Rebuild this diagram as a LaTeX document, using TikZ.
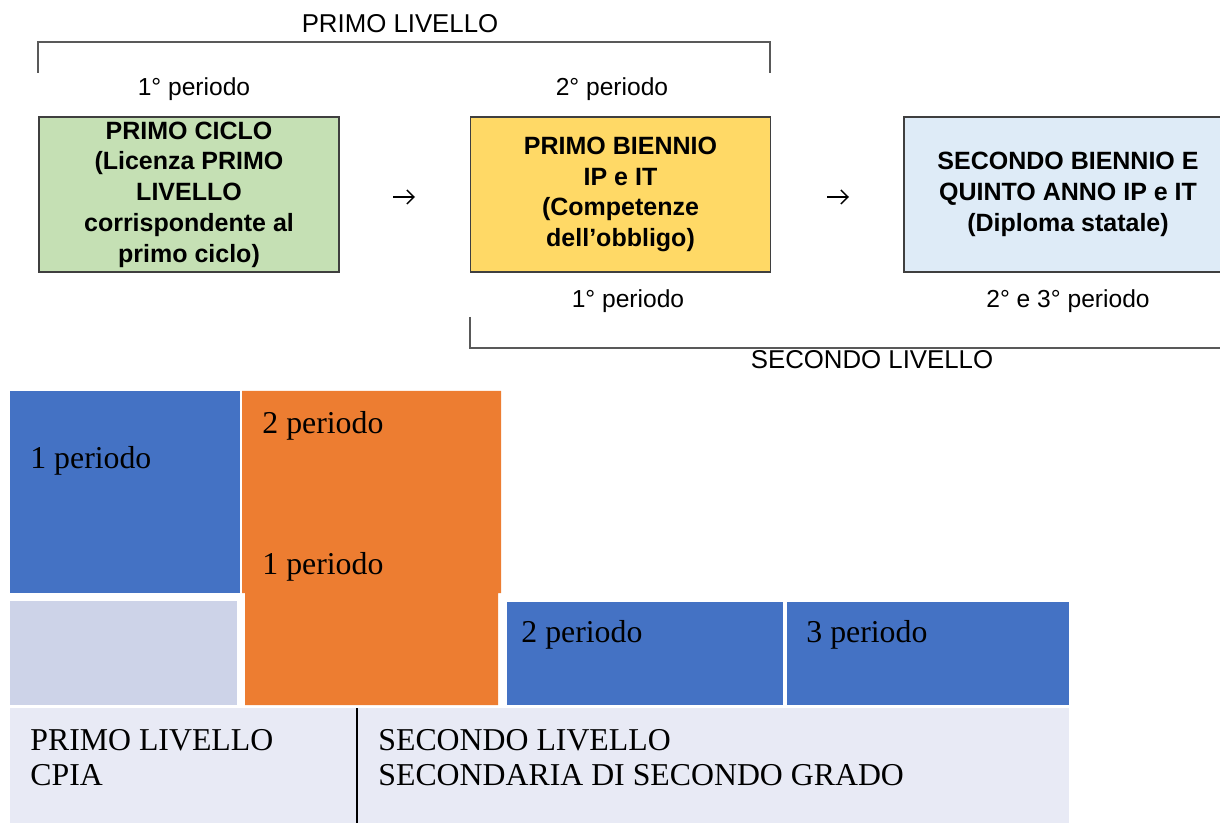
\documentclass[tikz,border=0pt]{standalone}
\usepackage{fontspec}
\usetikzlibrary{arrows.meta}
\setmainfont{Liberation Serif}
\newfontfamily\arialfont{Liberation Sans}
\definecolor{verde}{HTML}{C5E0B4}
\definecolor{giallo}{HTML}{FFD966}
\definecolor{celeste}{HTML}{DEEBF7}
\definecolor{blu}{HTML}{4472C4}
\definecolor{arancio}{HTML}{ED7D31}
\definecolor{lilla}{HTML}{CDD3E8}
\definecolor{fondo}{HTML}{E8EAF5}
\definecolor{bordo}{HTML}{3F3F3F}
\definecolor{riga}{HTML}{595959}
\begin{document}
\begin{tikzpicture}[x=0.5pt, y=-0.5pt,
    box/.style={draw=bordo, line width=0.7pt, minimum width=150pt, minimum height=77.5pt,
        align=center, inner sep=0pt, font=\arialfont\bfseries\fontsize{12.5}{15.4}\selectfont},
    etichetta/.style={anchor=base, inner sep=0pt, font=\arialfont\fontsize{12.3}{14}\selectfont},
    titolo/.style={anchor=base, inner sep=0pt, font=\arialfont\fontsize{12.9}{15}\selectfont},
    freccia/.style={line width=0.7pt, -{Straight Barb[length=3.6pt, width=7pt, line width=0.7pt]}},
    testo/.style={anchor=base west, inner sep=0pt, font=\fontsize{15.9}{16.5}\selectfont},
    parentesi/.style={draw=riga, line width=0.75pt}]
    \useasboundingbox (0,0) rectangle (1220,823);
    \clip (0,0) rectangle (1220,823);

    % Primo livello
    \node[titolo] (tPrimo) at (400,33) {PRIMO LIVELLO};
    \draw[parentesi] (38,73) -- (38,42) -- (770,42) -- (770,73);
    \node[etichetta] (per1) at (194,96) {1° periodo};
    \node[etichetta] (per2) at (612,96) {2° periodo};

    % Riquadri
    \node[box, fill=verde] (ciclo) at (189,194.5)
        {PRIMO CICLO\\(Licenza PRIMO\\LIVELLO\\corrispondente al\\primo ciclo)};
    \node[box, fill=giallo] (biennio) at (620.5,194.5)
        {PRIMO BIENNIO\\IP e IT\\(Competenze\\dell’obbligo)};
    \node[box, fill=celeste, minimum width=164pt] (quinto) at (1068,194.5)
        {SECONDO BIENNIO E\\QUINTO ANNO IP e IT\\(Diploma statale)};

    % Frecce
    \coordinate (f1a) at (393,197);
    \coordinate (f1b) at (415,197);
    \coordinate (f2a) at (827,197);
    \coordinate (f2b) at (849,197);
    \draw[freccia] (f1a) -- (f1b);
    \draw[freccia] (f2a) -- (f2b);

    % Secondo livello
    \node[etichetta] (per3) at (628,308) {1° periodo};
    \node[etichetta] (per4) at (1068,308) {2° e 3° periodo};
    \draw[parentesi] (470,317) -- (470,348) -- (1220,348);
    \node[titolo] (tSecondo) at (872,369) {SECONDO LIVELLO};

    % Blocchi
    \fill[blu] (10,391) rectangle (240,593);
    \fill[arancio] (242,391) -- (501,391) -- (501,593) -- (498,593) -- (498,705)
        -- (245,705) -- (245,593) -- (242,593) -- cycle;
    \fill[lilla] (10,601) rectangle (237,705);
    \fill[blu] (507,602) rectangle (783,705);
    \fill[blu] (787,602) rectangle (1069,705);
    \fill[fondo] (10,708) rectangle (356,823);
    \fill[fondo] (358,708) rectangle (1069,823);
    \draw[line width=1pt] (357,708) -- (357,823);

    % Testi
    \node[testo] (b1) at (30,468) {1 periodo};
    \node[testo] (b2) at (262,433) {2 periodo};
    \node[testo] (b3) at (262,574) {1 periodo};
    \node[testo] (b4) at (521,642) {2 periodo};
    \node[testo] (b5) at (806,642) {3 periodo};
    \node[testo] (l1) at (30,750) {PRIMO LIVELLO};
    \node[testo] (l2) at (30,785) {CPIA};
    \node[testo] (l3) at (378,750) {SECONDO LIVELLO};
    \node[testo] (l4) at (378,785) {SECONDARIA DI SECONDO GRADO};
\end{tikzpicture}
\end{document}
